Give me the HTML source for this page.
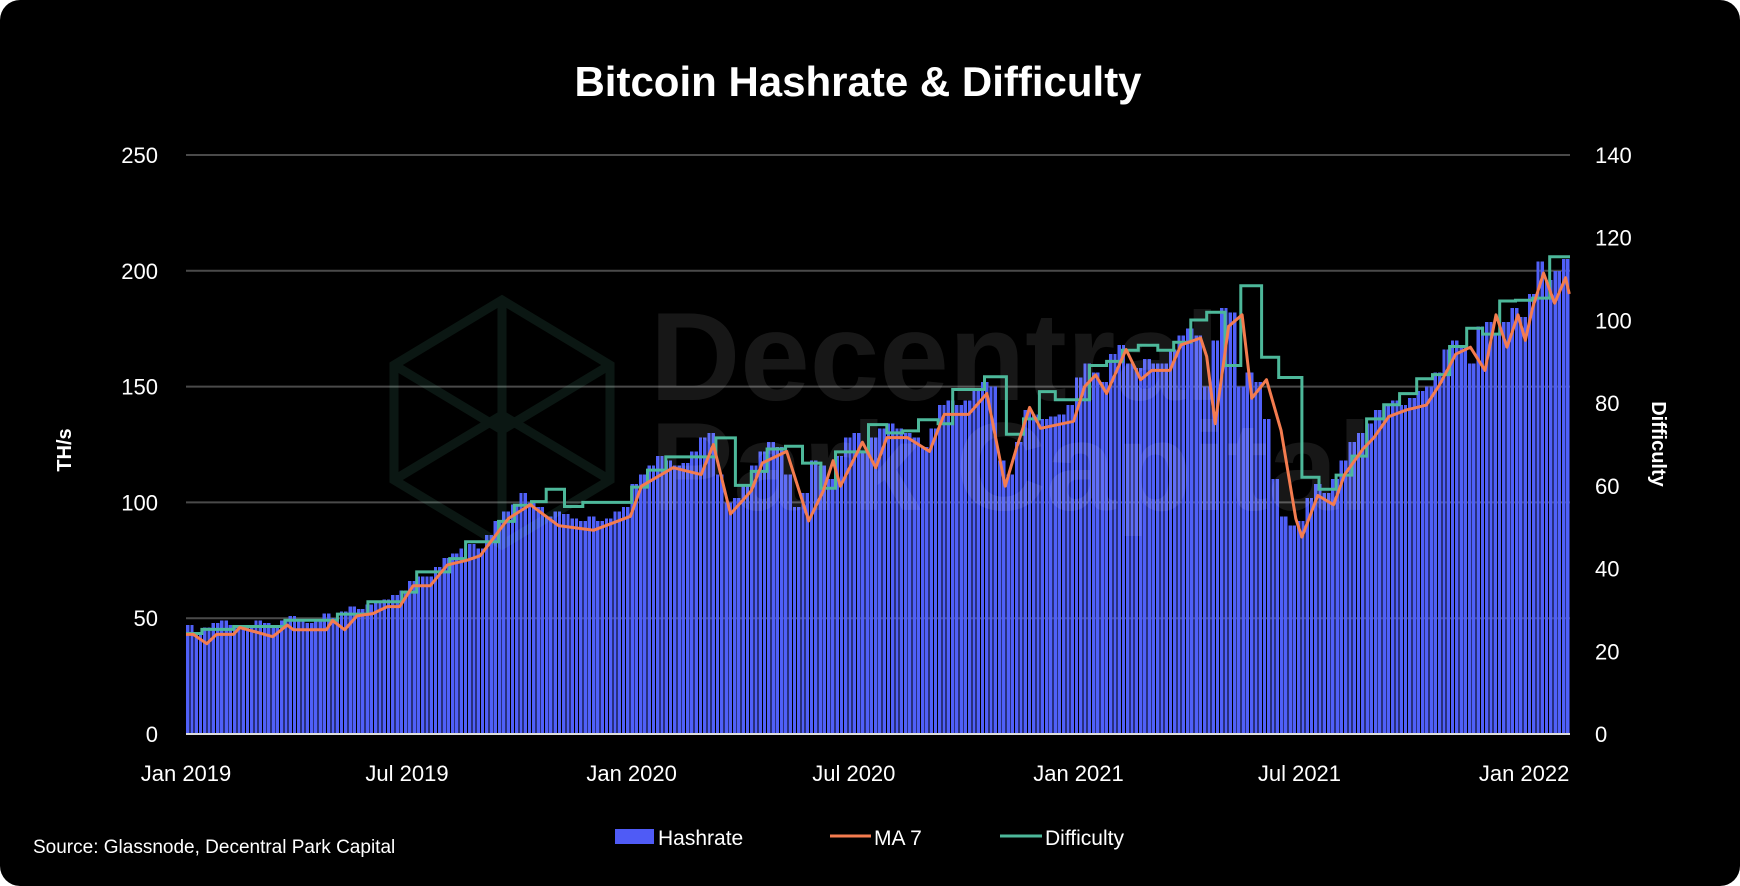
<!DOCTYPE html>
<html><head><meta charset="utf-8"><style>
html,body{margin:0;padding:0;background:#fff;}
#card{position:absolute;left:0;top:0;width:1740px;height:886px;background:#000;border-radius:20px;overflow:hidden;}
svg text{font-family:"Liberation Sans",sans-serif;fill:#fff;}
</style></head><body>
<div id="card">
<svg id="chart" width="1740" height="886">
  <text x="858" y="96" text-anchor="middle" font-size="42" font-weight="bold">Bitcoin Hashrate &amp; Difficulty</text>
  <g id="grid"></g>
  <g id="bars"></g>
  <g id="watermark" opacity="0.09">
    <g fill="none" stroke="#7fffd0" stroke-width="9">
      <polygon points="502,300 610,365 610,480 502,545 394,480 394,365"/>
      <polyline points="394,365 502,430 610,365"/><line x1="502" y1="300" x2="502" y2="545"/>
      <polyline points="394,480 502,415"/><polyline points="610,480 502,415"/>
    </g>
    <text x="650" y="400" font-size="125" font-weight="bold" style="fill:#fff">Decentral</text>
    <text x="650" y="510" font-size="125" font-weight="bold" style="fill:#fff">Park Capital</text>
  </g>
  <path id="diffLine" fill="none" stroke="#4db89a" stroke-width="3"/>
  <path id="maLine" fill="none" stroke="#f47c4f" stroke-width="3" stroke-linejoin="round"/>
  <line x1="186" y1="734" x2="1570" y2="734" stroke="#ddd" stroke-width="2"/>
  <g id="yLeft"></g>
  <g id="yRight"></g>
  <g id="xTicks"></g>
  <text transform="translate(71,450) rotate(-90)" text-anchor="middle" font-size="20" font-weight="bold">TH/s</text>
  <text transform="translate(1652,444) rotate(90)" text-anchor="middle" font-size="20" font-weight="bold">Difficulty</text>
  <g>
    <g><rect x="615" y="829" width="39" height="15" fill="#4f5bf6"/><text x="658" y="845" font-size="21">Hashrate</text></g>
    <g><line x1="830" y1="836" x2="871" y2="836" stroke="#f47c4f" stroke-width="3"/><text x="874" y="845" font-size="21">MA 7</text></g>
    <g><line x1="1000" y1="836" x2="1042" y2="836" stroke="#4db89a" stroke-width="3"/><text x="1045" y="845" font-size="21">Difficulty</text></g>
  </g>
  <text x="33" y="853" font-size="19">Source: Glassnode, Decentral Park Capital</text>
</svg>
</div>
<script>
const hashrateWeekly = [47,44,46,48,49,47,46,47,49,48,46,49,51,
49,48,49,52,50,53,55,54,56,57,58,60,62,
66,68,68,72,76,78,80,82,80,86,92,96,99,
104,100,98,94,96,95,93,92,94,92,93,96,98,
108,112,116,120,118,116,117,122,128,130,112,100,102,
108,116,122,126,124,112,98,104,118,116,110,120,128,
130,122,128,132,134,132,130,128,124,132,142,144,142,
144,148,152,150,118,112,126,140,138,136,137,138,142,
154,160,156,152,164,168,160,158,162,160,160,166,172,
175,172,150,170,184,182,150,156,152,136,110,94,90,
92,102,108,104,110,118,126,130,134,140,142,144,142,
145,148,150,156,166,170,168,160,176,178,172,178,184,
180,190,204,196,200,205];
const maDays = [0,6,17,25,39,44,71,83,88,115,120,130,140,153,165,175,186,200,214,230,241,264,282,305,334,364,373,399,422,432,446,463,472,492,510,522,530,536,554,565,574,591,609,621,641,656,671,680,691,700,727,736,745,754,770,782,791,806,815,831,836,843,854,865,873,885,897,909,914,927,940,949,964,973,985,1000,1016,1027,1040,1052,1064,1073,1082,1091,1097,1103,1112,1121,1130,1133];
const maValues = [43,43,39,43,43,46,42,47,45,45,49,45,51,52,55,55,64,64,73,75,77,93,99,90,88,94,107,115,112,125,95,105,117,122,92,105,118,107,126,115,128,128,122,138,138,147,107,123,141,132,135,150,155,147,166,153,157,157,168,171,163,134,176,181,145,153,131,93,85,103,99,112,123,128,137,140,142,151,164,167,157,181,167,181,170,184,199,186,197,190];
const diffDays = [0,13,39,81,124,149,177,189,216,229,256,269,283,295,310,325,365,378,393,419,434,450,463,476,491,505,520,532,559,574,587,600,616,628,654,672,686,699,712,740,754,767,780,796,809,823,836,851,864,881,895,914,928,942,955,967,981,994,1008,1021,1035,1049,1062,1076,1089,1103,1117];
const diffValues = [24.3,25.3,26.0,27.5,29.0,32.0,34.3,39.2,42.4,46.5,51.4,55.3,56.2,59.2,55.0,56.0,59.7,63.8,67.0,67.0,71.6,60.1,63.5,68.9,69.6,65.5,59.4,68.2,74.8,72.8,73.3,76.0,75.0,83.3,86.4,72.5,76.2,82.8,80.8,89.1,90.1,92.8,94.0,92.8,94.7,100.1,102.0,89.1,108.4,91.1,86.2,62.1,59.2,62.6,67.2,76.2,79.6,82.3,85.9,86.9,93.7,98.1,96.7,104.7,104.9,105.4,115.4];
const leftTicks = [0,50,100,150,200,250];
const rightTicks = [0,20,40,60,80,100,120,140];
const xTickLabels = ["Jan 2019","Jul 2019","Jan 2020","Jul 2020","Jan 2021","Jul 2021","Jan 2022"];
const xTickDays = [0,181,365,547,731,912,1096];

const NS="http://www.w3.org/2000/svg";
const X0=186, X1=1570, Y0=734, YTOP=155, DAYMAX=1133.6;
const xs = d => X0 + d*(X1-X0)/DAYMAX;
const yL = v => Y0 - v*(Y0-YTOP)/250;
const yR = v => Y0 - v*(Y0-YTOP)/140;
function mk(tag, attrs, parent){const e=document.createElementNS(NS,tag);for(const k in attrs)e.setAttribute(k,attrs[k]);parent.appendChild(e);return e;}

const grid=document.getElementById('grid');
leftTicks.forEach(t=>{ if(t>0){ const l=mk('line',{x1:X0,x2:X1,y1:yL(t),y2:yL(t),stroke:'#4a4a4a','stroke-width':2},grid);

}
 const tx=mk('text',{x:158,y:yL(t)+8,'text-anchor':'end','font-size':22},document.getElementById('yLeft')); tx.textContent=t;
 
 
});
rightTicks.forEach(t=>{const tx=mk('text',{x:1595,y:yR(t)+8,'font-size':22},document.getElementById('yRight')); tx.textContent=t;
 
 
});
xTickLabels.forEach((s,i)=>{const tx=mk('text',{x:xs(xTickDays[i]),y:781,'text-anchor':'middle','font-size':22},document.getElementById('xTicks')); tx.textContent=s;
 
 
});
const bars=document.getElementById('bars');
const bw=(X1-X0)*7/DAYMAX;
const STRIPES=2;
hashrateWeekly.forEach((v,i)=>{const x=xs(i*7);
 if(x>=X1)return;
 const g=mk('g',{},bars);
 
 
 for(let s=0;s<STRIPES;s++){const sx=x+s*bw/STRIPES; const w=Math.min(bw/STRIPES-0.9, X1-sx); if(w<=0)continue;
  mk('rect',{x:sx,y:yL(v),width:w,height:Y0-yL(v),fill:'#5060f8','shape-rendering':'crispEdges'},g);}
});
let d='';
maDays.forEach((dd,i)=>{d+=(i?'L':'M')+xs(dd).toFixed(1)+','+yL(maValues[i]).toFixed(1);});
document.getElementById('maLine').setAttribute('d',d);
let p='';
diffDays.forEach((dd,i)=>{const y=yR(diffValues[i]).toFixed(1); p+=(i?'L'+xs(dd).toFixed(1)+','+y:'M'+xs(dd).toFixed(1)+','+y); const nx=i<diffDays.length-1?diffDays[i+1]:DAYMAX; p+='L'+xs(nx).toFixed(1)+','+y;});
document.getElementById('diffLine').setAttribute('d',p);
</script>
</body></html>
